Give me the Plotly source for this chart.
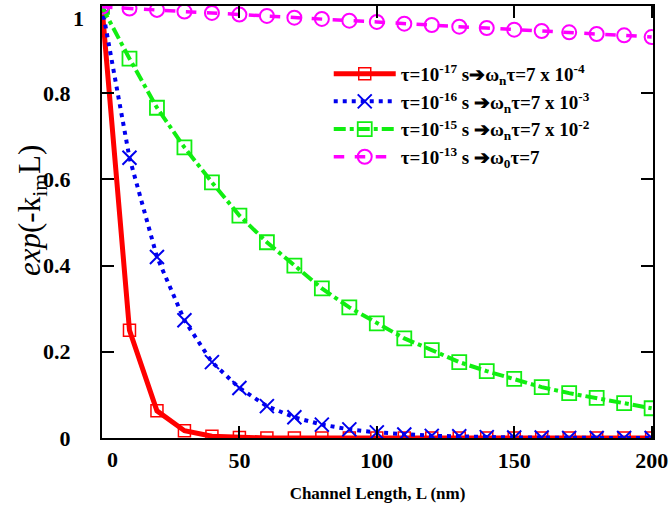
import plotly.graph_objects as go

L = [0, 10, 20, 30, 40, 50, 60, 70, 80, 90, 100, 110, 120, 130, 140, 150, 160, 170, 180, 190, 200]

tau_1e17 = [1.0, 0.25, 0.063, 0.017, 0.004, 0.001, 0, 0, 0, 0, 0, 0, 0, 0, 0, 0, 0, 0, 0, 0, 0]
tau_1e16 = [1.0, 0.65, 0.42, 0.273, 0.176, 0.116, 0.074, 0.048, 0.031, 0.02, 0.013,
            0.008, 0.005, 0.004, 0.002, 0.001, 0.001, 0, 0, 0, 0]
tau_1e15 = [1.0, 0.88, 0.766, 0.674, 0.593, 0.516, 0.454, 0.40, 0.347, 0.303, 0.266,
            0.231, 0.204, 0.176, 0.155, 0.137, 0.118, 0.104, 0.093, 0.081, 0.069]
tau_1e13 = [1.0, 0.996, 0.993, 0.989, 0.986, 0.982, 0.979, 0.975, 0.972, 0.968, 0.965,
            0.961, 0.958, 0.954, 0.951, 0.947, 0.944, 0.941, 0.937, 0.934, 0.930]

names = [
    "τ=10<sup>-17</sup> s➔ω<sub>n</sub>τ=7 x 10<sup>-4</sup>",
    "τ=10<sup>-16</sup> s ➔ω<sub>n</sub>τ=7 x 10<sup>-3</sup>",
    "τ=10<sup>-15</sup> s ➔ω<sub>n</sub>τ=7 x 10<sup>-2</sup>",
    "τ=10<sup>-13</sup> s ➔ω<sub>0</sub>τ=7",
]

x_ticks = [0, 50, 100, 150, 200]
x_ticklabels = ["0", "50", "100", "150", "200"]
y_ticks = [0, 0.2, 0.4, 0.6, 0.8, 1]
y_ticklabels = ["0", "0.2", "0.4", "0.6", "0.8", "1"]

x_title = "Channel Length, L (nm)"
y_title = "<i>exp</i>(-k<sub>im</sub>L)"

SERIF = "Liberation Serif, Times New Roman, serif"

fig = go.Figure()
fig.add_trace(go.Scatter(
    x=L, y=tau_1e17, name=names[0], mode="lines+markers",
    line=dict(color="#ff0000", width=5, dash="solid"),
    marker=dict(symbol="square-open", size=12, color="#ff0000", line=dict(width=1.5, color="#ff0000")),
))
fig.add_trace(go.Scatter(
    x=L, y=tau_1e16, name=names[1], mode="lines+markers",
    line=dict(color="#0000ee", width=4, dash="4px,5px"),
    marker=dict(symbol="x-thin-open", size=14, color="#0000ee", line=dict(width=2, color="#0000ee")),
))
fig.add_trace(go.Scatter(
    x=L, y=tau_1e15, name=names[2], mode="lines+markers",
    line=dict(color="#11ee11", width=4, dash="dashdot"),
    marker=dict(symbol="square-open", size=14, color="#11ee11", line=dict(width=1.8, color="#11ee11")),
))
fig.add_trace(go.Scatter(
    x=L, y=tau_1e13, name=names[3], mode="lines+markers",
    line=dict(color="#ff00ff", width=3.5, dash="dash"),
    marker=dict(symbol="circle-open", size=14, color="#ff00ff", line=dict(width=2, color="#ff00ff")),
))

axis_common = dict(
    showline=True, linecolor="black", linewidth=2, mirror="ticks",
    ticks="inside", ticklen=12, tickwidth=1.5, tickcolor="black",
    showgrid=False, zeroline=False, automargin=False,
    ticklabeloverflow="allow",
    tickfont=dict(family=SERIF, size=22, color="black", weight="bold"),
)

# in the reference the corner labels ("1" on y, "0" on x) sit slightly off their ticks
y_shown = [t if v != 1 else "" for v, t in zip(y_ticks, y_ticklabels)]
x_shown = [t if v != 0 else "" for v, t in zip(x_ticks, x_ticklabels)]

TICKFONT = dict(family=SERIF, size=22, color="black", weight="bold")

fig.update_layout(
    width=669, height=509,
    paper_bgcolor="white", plot_bgcolor="white",
    margin=dict(l=102, r=16, t=6, b=71),
    xaxis=dict(
        range=[0, 200.5], tickvals=x_ticks, ticktext=x_shown,
        title=dict(text=x_title, standoff=15,
                   font=dict(family=SERIF, size=17, color="black", weight="bold")),
        ticklabelstandoff=2,
        **axis_common,
    ),
    yaxis=dict(
        range=[0, 1.002], tickvals=y_ticks, ticktext=y_shown,
        ticklabelstandoff=25,
        **axis_common,
    ),
    showlegend=True,
    legend=dict(
        x=0.4115, y=0.887, xanchor="left", yanchor="top",
        bgcolor="rgba(0,0,0,0)", borderwidth=0,
        font=dict(family=SERIF, size=19, color="black", weight="bold"),
        itemwidth=62, tracegroupgap=0,
    ),
    annotations=[
        dict(text=y_ticklabels[-1], xref="paper", yref="paper",
             x=-(102 - 86) / 551, y=(438 - 19) / 432, xanchor="right", yanchor="middle",
             showarrow=False, font=TICKFONT),
        dict(text=x_ticklabels[0], xref="paper", yref="paper",
             x=(112 - 102) / 551, y=-(460 - 438) / 432, xanchor="center", yanchor="middle",
             showarrow=False, font=TICKFONT),
        dict(text=y_title, xref="paper", yref="paper",
             x=-(102 - 32) / 551, y=(438 - 211) / 432, xanchor="center", yanchor="middle",
             textangle=-90, showarrow=False,
             font=dict(family=SERIF, size=31, color="black")),
    ],
)

fig.write_html(
    "out.html",
    config={"displayModeBar": False},
    post_script="document.body.style.margin='0';document.body.style.padding='0';",
)
